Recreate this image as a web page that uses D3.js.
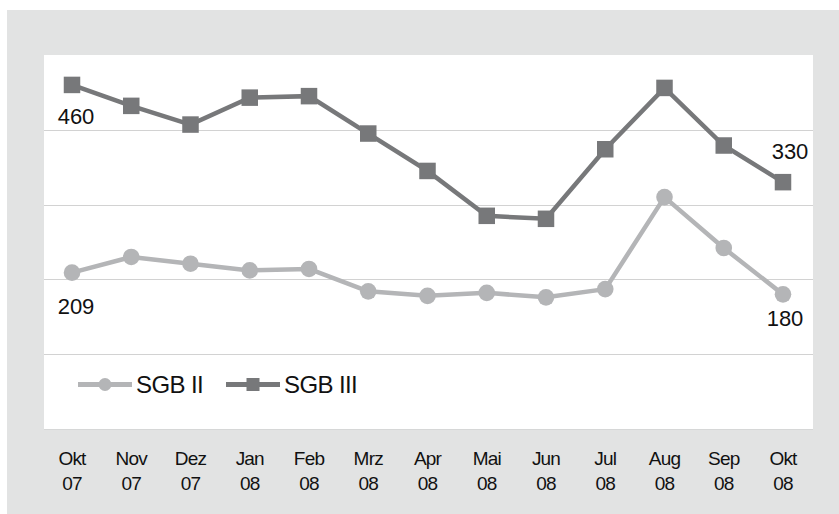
<!DOCTYPE html>
<html>
<head>
<meta charset="utf-8">
<script src="https://cdn.jsdelivr.net/npm/d3@7"></script>
<style>
  html, body { margin: 0; padding: 0; background: #ffffff; }
  svg { display: block; }
  text { font-family: "Liberation Sans", Arial, sans-serif; fill: #111; }
</style>
</head>
<body>
<svg id="chart" width="839" height="514"></svg>
<script>
const months = ["Okt","Nov","Dez","Jan","Feb","Mrz","Apr","Mai","Jun","Jul","Aug","Sep","Okt"];
const years  = ["07","07","07","08","08","08","08","08","08","08","08","08","08"];
const sgb2   = [209, 230, 221, 212, 214, 184, 178, 182, 176, 187, 310, 242, 180];
const sgb3   = [460, 432, 407, 443, 445, 395, 345, 285, 281, 374, 456, 379, 330];
const seriesNames = ["SGB II", "SGB III"];
const yTicks = [0, 100, 200, 300, 400];

const svg = d3.select("#chart");
const W = 839, H = 514;
const plot = {left: 44, right: 813, top: 55, bottom: 429};
const colLight = "#b4b5b7", colDark = "#77787a";

// backgrounds
svg.append("rect").attr("x", 7).attr("y", 10).attr("width", W - 7).attr("height", H - 10).attr("fill", "#e2e3e3");
svg.append("rect").attr("x", plot.left).attr("y", plot.top)
  .attr("width", plot.right - plot.left).attr("height", plot.bottom - plot.top).attr("fill", "#ffffff");

const idx = months.map((m, i) => i);
const x = d3.scalePoint().domain(idx).range([72, 783]);
const y = d3.scaleLinear().domain([0, 500]).range([plot.bottom, plot.top]);

// gridlines
svg.append("g").selectAll("line").data(yTicks).join("line")
  .attr("x1", plot.left).attr("x2", plot.right)
  .attr("y1", d => Math.round(y(d)) + 0.5).attr("y2", d => Math.round(y(d)) + 0.5)
  .attr("stroke", d => d === 0 ? "#d6d7d7" : "#d2d2d2").attr("stroke-width", 1);

const line = d3.line().x((d, i) => x(i)).y(d => y(d));

// SGB II
svg.append("path").datum(sgb2).attr("d", line).attr("fill", "none")
  .attr("stroke", colLight).attr("stroke-width", 4.5).attr("stroke-linejoin", "round");
svg.append("g").selectAll("circle").data(sgb2).join("circle")
  .attr("cx", (d, i) => x(i)).attr("cy", d => y(d)).attr("r", 8.3).attr("fill", colLight);

// SGB III
svg.append("path").datum(sgb3).attr("d", line).attr("fill", "none")
  .attr("stroke", colDark).attr("stroke-width", 4.5).attr("stroke-linejoin", "miter");
const sq = 16.5;
svg.append("g").selectAll("rect").data(sgb3).join("rect")
  .attr("x", (d, i) => x(i) - sq / 2).attr("y", d => y(d) - sq / 2)
  .attr("width", sq).attr("height", sq).attr("fill", colDark);

// data labels (first and last)
const last = months.length - 1;
const lbl = svg.append("g").attr("font-size", 22).attr("text-anchor", "middle");
lbl.append("text").attr("x", x(0) + 4).attr("y", y(sgb3[0]) + 39).text(sgb3[0]);
lbl.append("text").attr("x", x(0) + 4).attr("y", y(sgb2[0]) + 41).text(sgb2[0]);
lbl.append("text").attr("x", x(last) + 7).attr("y", y(sgb3[last]) - 23).text(sgb3[last]);
lbl.append("text").attr("x", x(last) + 2).attr("y", y(sgb2[last]) + 32).text(sgb2[last]);

// x axis labels
const ax = svg.append("g").attr("font-size", 19).attr("text-anchor", "middle").attr("letter-spacing", -0.8);
idx.forEach(i => {
  ax.append("text").attr("x", x(i)).attr("y", 465).text(months[i]);
  ax.append("text").attr("x", x(i)).attr("y", 490).text(years[i]);
});

// legend
const leg = svg.append("g");
const ly = 384.5;
const legItems = [
  {name: seriesNames[0], x0: 78, color: colLight, marker: "circle"},
  {name: seriesNames[1], x0: 226, color: colDark, marker: "square"}
];
legItems.forEach(it => {
  leg.append("line").attr("x1", it.x0).attr("x2", it.x0 + 54).attr("y1", ly).attr("y2", ly)
    .attr("stroke", it.color).attr("stroke-width", 5);
  if (it.marker === "circle") {
    leg.append("circle").attr("cx", it.x0 + 27).attr("cy", ly).attr("r", 6.5).attr("fill", it.color);
  } else {
    leg.append("rect").attr("x", it.x0 + 27 - 6.5).attr("y", ly - 6.5).attr("width", 13).attr("height", 13).attr("fill", it.color);
  }
  leg.append("text").attr("x", it.x0 + 58).attr("y", ly + 8.5).attr("font-size", 24)
    .attr("letter-spacing", -0.6).text(it.name);
});
</script>
</body>
</html>
